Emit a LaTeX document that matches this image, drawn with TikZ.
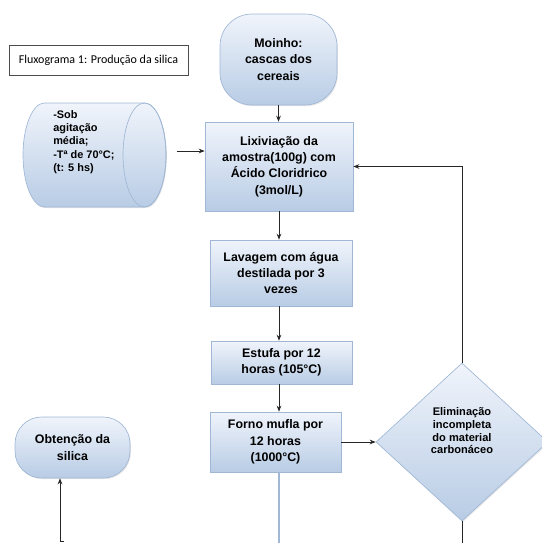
\documentclass[tikz,border=0pt]{standalone}
\usepackage{fontspec}
\setmainfont{Liberation Sans}
\newfontfamily\titlefont{Carlito}
\usepackage{tikz}
\usetikzlibrary{shapes.geometric,positioning,arrows.meta,shadows}

\definecolor{boxtop}{RGB}{240,244,251}
\definecolor{boxbot}{RGB}{184,204,229}
\definecolor{boxline}{RGB}{160,184,214}

\begin{document}
\begin{tikzpicture}[x=0.75pt, y=-0.75pt,
    stepbox/.style={draw=boxline, line width=0.5pt, top color=boxtop, bottom color=boxbot,
        align=center, inner sep=0pt, font=\bfseries\fontsize{9.3}{12.2}\selectfont,
        drop shadow={opacity=0.2, shadow xshift=0.7pt, shadow yshift=-0.9pt}},
    endbox/.style={stepbox, rounded corners=20pt},
    arr/.style={-{Stealth[length=4.5pt,width=3.5pt]}, line width=0.6pt, black!85}]

    \useasboundingbox (0,0) rectangle (542,543);

    % Title
    \node[draw=black!70, line width=0.6pt, fill=white, minimum width=134.25pt, minimum height=22.5pt,
        inner sep=0pt, font=\titlefont\fontsize{9}{11}\selectfont] (title) at (98.5,60)
        {Fluxograma 1: Produção da silica};

    % Main column
    \node[endbox, rounded corners=24pt, minimum width=87.75pt, minimum height=68.25pt] (moinho) at (278.5,59.5)
        {Moinho:\\cascas dos\\cereais};
    \node[stepbox, minimum width=111pt, minimum height=66.75pt] (lix) at (279,166.5)
        {Lixiviação da\\amostra(100g) com\\Ácido Cloridrico\\(3mol/L)};
    \node[stepbox, minimum width=106.5pt, minimum height=49.5pt] (lav) at (281,273)
        {Lavagem com água\\destilada por 3\\vezes};
    \node[stepbox, minimum width=105.75pt, minimum height=32.25pt] (est) at (281.5,362.5)
        {Estufa por 12\\horas (105°C)};
    \node[stepbox, minimum width=98.25pt, minimum height=45pt] (forno) at (275.5,442)
        {Forno mufla por\\12 horas\\(1000°C)};

    % Decision and end
    \node[stepbox, diamond, minimum width=129pt, minimum height=118.5pt, text depth=17pt,
        font=\bfseries\fontsize{8.3}{9.5}\selectfont] (elim) at (462,442)
        {Eliminação\\incompleta\\do material\\carbonáceo};
    \node[endbox, minimum width=86.25pt, minimum height=45.75pt] (obt) at (72.5,447.5)
        {Obtenção da\\silica};

    % Cylinder with the conditions
    \shade[draw=boxline, line width=0.5pt, top color=boxtop, bottom color=boxbot,
        drop shadow={opacity=0.2, shadow xshift=0.7pt, shadow yshift=-0.9pt}]
        (44.5,103) -- (144.5,103) arc[start angle=-90, end angle=90, x radius=21.5, y radius=52]
        -- (44.5,207) arc[start angle=90, end angle=270, x radius=21.5, y radius=52] -- cycle;
    \draw[boxline, line width=0.5pt] (144.5,155) ellipse [x radius=21.5, y radius=52];
    \node[anchor=west, align=left, inner sep=0pt, font=\bfseries\fontsize{8.2}{9.9}\selectfont] (cyltext) at (53,142)
        {-Sob\\agitação\\média;\\-Tª de 70°C;\\(t: 5 hs)};
    \coordinate (cyl) at (166,151);

    % Connectors
    \draw[arr] ([xshift=8pt]cyl) -- (cyl -| lix.west);
    \draw[arr] (moinho.south) -- (moinho.south |- lix.north);
    \draw[arr] (lix.south) -- (lix.south |- lav.north);
    \draw[arr] (lix.south |- lav.south) -- (lix.south |- est.north);
    \draw[arr] (lix.south |- est.south) -- (lix.south |- forno.north);
    \draw[boxline, line width=0.8pt] (lix.south |- forno.south) -- ++(0,72);
    \draw[arr] (forno.east) -- (elim.west);
    \draw[arr] (elim.north) |- (lix.east);
    \draw[line width=0.6pt, black!85] (elim.south) -- ++(0,25);

    \coordinate (corner) at (60,541);
    \draw[arr] ([xshift=3pt]corner) -- (corner) -- (corner |- obt.south);
\end{tikzpicture}
\end{document}
